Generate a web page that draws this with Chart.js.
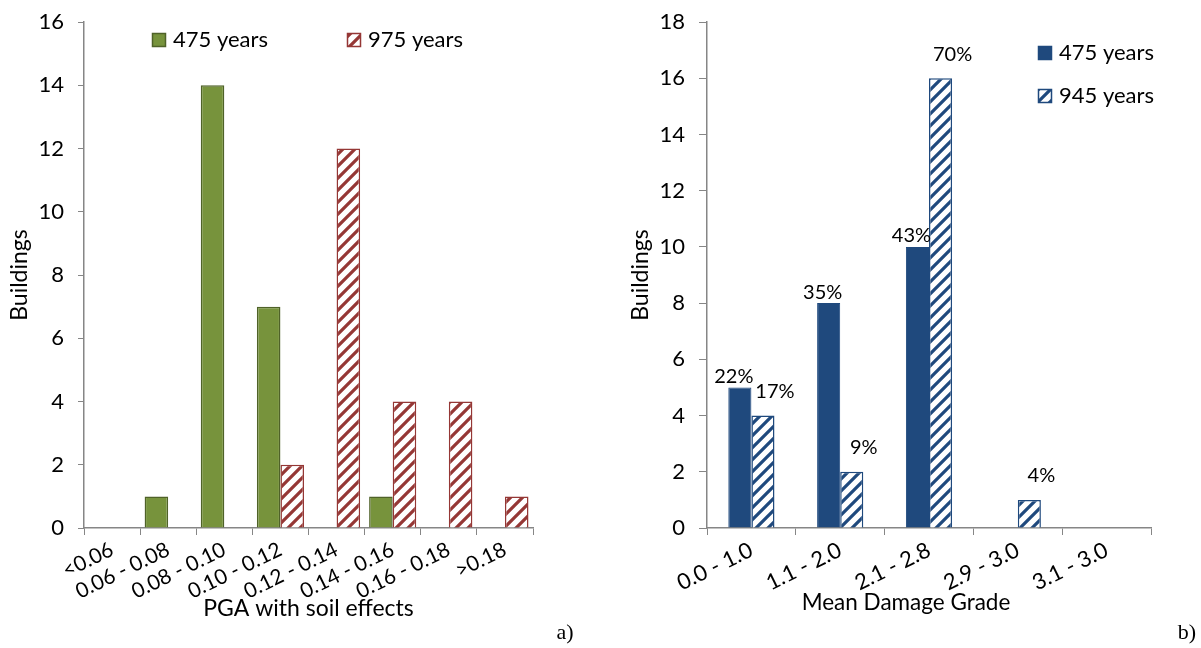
<!DOCTYPE html>
<html>
<head>
<meta charset="utf-8">
<script src="https://cdn.jsdelivr.net/npm/chart.js@4/dist/chart.umd.min.js"></script>
<style>
  body { margin: 0; background: #fff; }
  #wrap { position: relative; width: 1201px; height: 648px; }
  #boxA { position: absolute; left: 0; top: 0; width: 600px; height: 648px; }
  #boxB { position: absolute; left: 600px; top: 0; width: 601px; height: 648px; }
</style>
</head>
<body>
<div id="wrap">
  <div id="boxA"><canvas id="chartA" width="600" height="648"></canvas></div>
  <div id="boxB"><canvas id="chartB" width="601" height="648"></canvas></div>
</div>
<script>
// a) PGA histogram
var pgaLabels = ["<0.06", "0.06 - 0.08", "0.08 - 0.10", "0.10 - 0.12", "0.12 - 0.14", "0.14 - 0.16", "0.16 - 0.18", ">0.18"];
var pga475 = [0, 1, 14, 7, 0, 1, 0, 0];
var pga975 = [0, 0, 0, 2, 12, 4, 4, 1];

// b) mean damage grade
var dmgLabels = ["0.0 - 1.0", "1.1 - 2.0", "2.1 - 2.8", "2.9 - 3.0", "3.1 - 3.0"];
var dmg475 = [5, 8, 10, 0, 0];
var dmg945 = [4, 2, 16, 1, 0];
var dmg475Pct = ["22%", "35%", "43%", "", ""];
var dmg945Pct = ["17%", "9%", "70%", "4%", ""];

var FONT = "Lato";
var AXIS = "#868686";

Chart.defaults.font.family = FONT;
Chart.defaults.color = "#000";

// diagonal stripes, white ground
function makeHatch(color) {
    var c = document.createElement("canvas");
    c.width = 12; c.height = 12;
    var g = c.getContext("2d");
    g.fillStyle = "#fff";
    g.fillRect(0, 0, 12, 12);
    g.strokeStyle = color;
    g.lineWidth = 3.2;
    g.beginPath();
    g.moveTo(0, 12); g.lineTo(12, 0);
    g.moveTo(-6, 6); g.lineTo(6, -6);
    g.moveTo(6, 18); g.lineTo(18, 6);
    g.stroke();
    return g.createPattern(c, "repeat");
}

function noZeroBorder(w) {
    return function(ctx) { return ctx.raw ? w : 0; };
}

// legend drawn at fixed spots, from the datasets
var fixedLegend = {
    id: "fixedLegend",
    afterDraw: function(chart, args, opts) {
        var ctx = chart.ctx;
        ctx.save();
        ctx.font = opts.size + "px " + FONT;
        ctx.textBaseline = "middle";
        chart.data.datasets.forEach(function(ds, i) {
            var p = opts.pos[i];
            ctx.fillStyle = ds.backgroundColor;
            ctx.fillRect(p.x, p.y, 14, 14);
            ctx.strokeStyle = ds.borderColor;
            ctx.lineWidth = 1.5;
            ctx.strokeRect(p.x + 0.5, p.y + 0.5, 13, 13);
            ctx.fillStyle = "#000";
            ctx.fillText(ds.label, p.x + 21, p.y + 7);
        });
        ctx.restore();
    }
};

// percentage labels over the bars
var pctLabels = {
    id: "pctLabels",
    afterDatasetsDraw: function(chart, args, opts) {
        if (!opts.enabled) return;
        var ctx = chart.ctx;
        ctx.save();
        ctx.font = opts.size + "px " + FONT;
        ctx.textAlign = "center";
        ctx.textBaseline = "middle";
        ctx.fillStyle = "#000";
        chart.data.datasets.forEach(function(ds, i) {
            var meta = chart.getDatasetMeta(i);
            var off = opts.offsets[i];
            meta.data.forEach(function(bar, j) {
                var t = ds.pct[j];
                if (!t) return;
                ctx.fillText(t, bar.x + off.dx, bar.y - off.dy);
            });
        });
        ctx.restore();
    }
};

// free texts: panel letters etc.
var notes = {
    id: "notes",
    afterDraw: function(chart, args, opts) {
        var ctx = chart.ctx;
        ctx.save();
        (opts.items || []).forEach(function(n) {
            ctx.font = n.font;
            ctx.textAlign = "center";
            ctx.textBaseline = "middle";
            ctx.fillStyle = "#000";
            ctx.fillText(n.text, n.x, n.y);
        });
        ctx.restore();
    }
};

function axisOpts(o) {
    return {
        x: {
            grid: { offset: true, drawOnChartArea: false, color: AXIS, tickLength: 7 },
            border: { color: AXIS, width: 1.5 },
            ticks: { autoSkip: false, minRotation: 26, maxRotation: 26, font: { size: o.xSize }, color: "#000", padding: o.xPad },
            title: o.xTitle ? { display: true, text: o.xTitle, font: { size: 23 }, color: "#000", padding: { top: 0, bottom: 26 } } : { display: false },
            afterFit: function(s) { s.height = 120; }
        },
        y: {
            min: 0, max: o.max,
            ticks: { stepSize: 2, font: { size: 22 }, color: "#000", padding: 14 },
            grid: { drawOnChartArea: false, color: AXIS, tickLength: o.tick },
            border: { color: AXIS, width: 1.5 },
            title: { display: true, text: "Buildings", font: { size: 23 }, color: "#000", padding: { top: o.yTitlePad, bottom: 0 } },
            afterFit: function(s) {
                s.width = o.yWidth;
                // tick padding would otherwise push the plot top down
                s.paddingTop = 10;
                s.paddingBottom = 10;
            }
        }
    };
}

var hatchRed = makeHatch("#953735");
var hatchBlue = makeHatch("#1F497D");

new Chart(document.getElementById("chartA"), {
    type: "bar",
    data: {
        labels: pgaLabels,
        datasets: [{
            label: "475 years",
            data: pga475,
            backgroundColor: "#77933C",
            borderColor: "#4F6228",
            borderWidth: noZeroBorder(1.5),
            categoryPercentage: 0.84,
            barPercentage: 1
        }, {
            label: "975 years",
            data: pga975,
            backgroundColor: hatchRed,
            borderColor: "#953735",
            borderWidth: noZeroBorder(1.5),
            categoryPercentage: 0.84,
            barPercentage: 1
        }]
    },
    options: {
        responsive: false,
        animation: false,
        layout: { padding: { top: 22, right: 67, left: 0, bottom: 0 } },
        plugins: {
            legend: { display: false },
            tooltip: { enabled: false },
            fixedLegend: { size: 22, pos: [{ x: 152, y: 33 }, { x: 347, y: 33 }] },
            pctLabels: { enabled: false },
            notes: { items: [{ text: "a)", x: 565, y: 633, font: "22px 'Liberation Serif'" }] }
        },
        scales: axisOpts({ max: 16, xSize: 21, xPad: 2, xTitle: "PGA with soil effects", yWidth: 84, tick: 6, yTitlePad: 6 })
    },
    plugins: [fixedLegend, pctLabels, notes]
});

new Chart(document.getElementById("chartB"), {
    type: "bar",
    data: {
        labels: dmgLabels,
        datasets: [{
            label: "475 years",
            data: dmg475,
            pct: dmg475Pct,
            backgroundColor: "#1F497D",
            borderColor: "#1F497D",
            borderWidth: noZeroBorder(1),
            categoryPercentage: 0.52,
            barPercentage: 1
        }, {
            label: "945 years",
            data: dmg945,
            pct: dmg945Pct,
            backgroundColor: hatchBlue,
            borderColor: "#1F497D",
            borderWidth: noZeroBorder(1.5),
            categoryPercentage: 0.52,
            barPercentage: 1
        }]
    },
    options: {
        responsive: false,
        animation: false,
        layout: { padding: { top: 22, right: 50, left: 0, bottom: 0 } },
        plugins: {
            legend: { display: false },
            tooltip: { enabled: false },
            fixedLegend: { size: 22, pos: [{ x: 438, y: 46 }, { x: 438, y: 89 }] },
            pctLabels: { enabled: true, size: 20, offsets: [{ dx: -6, dy: 11 }, { dx: 12, dy: 24 }] },
            notes: { items: [
                { text: "Mean Damage Grade", x: 306, y: 603, font: "22.5px " + FONT },
                { text: "b)", x: 587, y: 633, font: "22px 'Liberation Serif'" }
            ] }
        },
        scales: axisOpts({ max: 18, xSize: 22, xPad: 2, xTitle: null, yWidth: 107, tick: 8, yTitlePad: 27 })
    },
    plugins: [fixedLegend, pctLabels, notes]
});
</script>
</body>
</html>
